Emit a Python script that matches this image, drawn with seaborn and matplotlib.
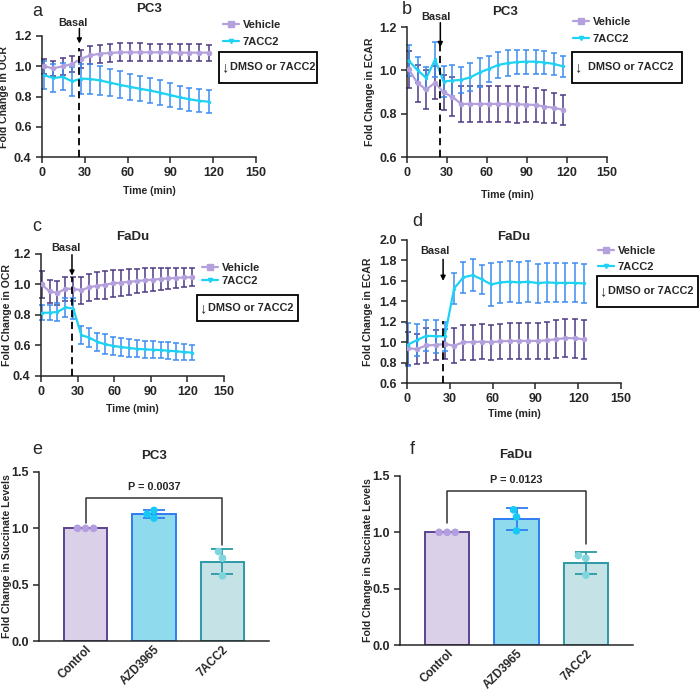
import numpy as np
import pandas as pd
import matplotlib
matplotlib.use('Agg')
import matplotlib.pyplot as plt
import seaborn as sns
from matplotlib.lines import Line2D
from matplotlib.patches import Rectangle

# ---- data ----
time_pc3 = [1.2, 8.0, 14.5, 21.1, 27.4, 33.9, 40.7, 47.6, 54.5, 61.5, 68.4, 75.4,
            82.5, 89.5, 96.4, 103.1, 110.0, 117.2]
time_fadu = [0.5, 7.0, 13.5, 20.0, 26.5, 33.0, 39.5, 46.0, 52.5, 59.0, 65.5, 72.0,
             78.5, 85.0, 91.5, 98.0, 104.5, 111.0, 117.5, 124.0]

# a: PC3 OCR
a_veh = [1.0, 0.986, 1.0, 1.015, 1.05, 1.072, 1.083, 1.088, 1.092, 1.092, 1.092, 1.092,
         1.092, 1.092, 1.09, 1.09, 1.09, 1.09]
a_veh_sd = [0.05, 0.05, 0.055, 0.055, 0.06, 0.06, 0.06, 0.06, 0.06, 0.06, 0.06, 0.058,
            0.055, 0.055, 0.055, 0.055, 0.055, 0.052]
a_drug = [0.942, 0.922, 0.93, 0.9, 0.918, 0.916, 0.906, 0.892, 0.877, 0.864, 0.852, 0.84,
          0.826, 0.81, 0.795, 0.782, 0.772, 0.765]
a_drug_sd = [0.09, 0.09, 0.09, 0.095, 0.1, 0.1, 0.095, 0.09, 0.09, 0.085, 0.085, 0.08,
             0.08, 0.078, 0.075, 0.075, 0.075, 0.075]

# b: PC3 ECAR
b_veh = [1.005, 0.94, 0.912, 0.943, 0.898, 0.878, 0.845, 0.845, 0.845, 0.845, 0.845, 0.845,
         0.843, 0.842, 0.84, 0.833, 0.827, 0.818]
b_veh_sd = [0.085, 0.085, 0.09, 0.075, 0.08, 0.09, 0.085, 0.085, 0.085, 0.085, 0.085, 0.085,
            0.085, 0.08, 0.08, 0.075, 0.07, 0.07]
b_drug = [1.045, 1.0, 0.965, 1.05, 0.948, 0.953, 0.956, 0.968, 0.99, 1.007, 1.025, 1.033,
          1.038, 1.04, 1.04, 1.036, 1.03, 1.018]
b_drug_sd = [0.07, 0.06, 0.05, 0.08, 0.07, 0.07, 0.06, 0.065, 0.065, 0.06, 0.06, 0.06,
             0.055, 0.055, 0.055, 0.055, 0.05, 0.05]

# c: FaDu OCR
c_veh = [1.0, 0.955, 0.945, 0.972, 0.972, 0.962, 0.982, 0.992, 0.998, 1.008, 1.012, 1.018,
         1.022, 1.028, 1.032, 1.036, 1.04, 1.043, 1.046, 1.048]
c_veh_sd = [0.09, 0.075, 0.08, 0.08, 0.08, 0.09, 0.09, 0.09, 0.09, 0.09, 0.085, 0.085,
            0.08, 0.08, 0.075, 0.07, 0.07, 0.065, 0.065, 0.06]
c_drug = [0.815, 0.815, 0.82, 0.85, 0.842, 0.668, 0.652, 0.625, 0.608, 0.598, 0.59, 0.584,
          0.578, 0.575, 0.572, 0.57, 0.566, 0.562, 0.557, 0.553]
c_drug_sd = [0.05, 0.05, 0.06, 0.06, 0.07, 0.06, 0.06, 0.06, 0.065, 0.06, 0.06, 0.06,
             0.055, 0.055, 0.055, 0.055, 0.055, 0.055, 0.055, 0.05]

# d: FaDu ECAR
d_veh = [0.94, 0.932, 0.968, 0.972, 0.982, 0.965, 1.0, 1.0, 1.005, 1.0, 1.008, 1.012,
         1.012, 1.012, 1.012, 1.018, 1.028, 1.04, 1.038, 1.028]
d_veh_sd = [0.16, 0.15, 0.17, 0.15, 0.15, 0.17, 0.17, 0.17, 0.17, 0.17, 0.17, 0.18,
            0.18, 0.18, 0.18, 0.18, 0.185, 0.19, 0.19, 0.19]
d_drug = [0.975, 1.02, 1.062, 1.058, 1.058, 1.525, 1.635, 1.655, 1.615, 1.565, 1.585, 1.592,
          1.585, 1.592, 1.578, 1.585, 1.58, 1.58, 1.58, 1.575]
d_drug_sd = [0.21, 0.16, 0.15, 0.16, 0.14, 0.15, 0.15, 0.155, 0.14, 0.21, 0.2, 0.2,
             0.2, 0.2, 0.19, 0.19, 0.19, 0.19, 0.19, 0.19]

# e / f: succinate, three replicates per group
bar_groups = ['Control', 'AZD3965', '7ACC2']
e_reps = [[1.0, 1.0, 1.0], [1.159, 1.091, 1.126], [0.794, 0.735, 0.578]]
f_reps = [[1.0, 1.0, 1.0], [1.2, 1.137, 1.013], [0.794, 0.77, 0.62]]

# ---- style ----
sns.set_style('ticks')
plt.rcParams['font.family'] = ['Liberation Sans', 'DejaVu Sans']
plt.rcParams['font.weight'] = 'bold'
plt.rcParams['axes.labelweight'] = 'bold'
plt.rcParams['axes.linewidth'] = 1.1
plt.rcParams['xtick.major.width'] = 1.1
plt.rcParams['ytick.major.width'] = 1.1
plt.rcParams['xtick.major.size'] = 4
plt.rcParams['ytick.major.size'] = 4
plt.rcParams['xtick.labelsize'] = 9
plt.rcParams['ytick.labelsize'] = 9
plt.rcParams['axes.labelsize'] = 7.6

VEH_LINE, VEH_ERR = '#b4a0dc', '#4e3a82'
DRUG_LINE, DRUG_ERR = '#1ed2f5', '#3c8cf0'
BAR_FILL = ['#d9cdec', '#80e3fc', '#bfe6ec']
BAR_EDGE = ['#5b4390', '#2f7df0', '#2a9aa5']
BAR_DOT = ['#b39ee0', '#18c8f5', '#80d4dc']

W, H = 700, 692
fig = plt.figure(figsize=(W / 100, H / 100), dpi=100)


def px_axes(x0, y0, x1, y1):
    return fig.add_axes([x0 / W, 1 - y1 / H, (x1 - x0) / W, (y1 - y0) / H])


def ftext(x, y, s, **kw):
    fig.text(x / W, 1 - y / H, s, **kw)


def timecourse(ax, t, veh, veh_sd, drug, drug_sd, ylim, yticks, ylabel,
               inj_t, dash_top, arrow_y):
    ax.errorbar(t, veh, yerr=veh_sd, fmt='none', ecolor=VEH_ERR, elinewidth=1.1,
                capsize=2.5, capthick=1.1, zorder=2, clip_on=False)
    ax.errorbar(t, drug, yerr=drug_sd, fmt='none', ecolor=DRUG_ERR, elinewidth=1.1,
                capsize=2.5, capthick=1.1, zorder=2, clip_on=False)
    df_v = pd.DataFrame({'time': t, 'fold': veh})
    df_d = pd.DataFrame({'time': t, 'fold': drug})
    sns.lineplot(data=df_v, x='time', y='fold', color=VEH_LINE, lw=1.6, marker='o',
                 markersize=4, markeredgewidth=0, ax=ax, zorder=3)
    sns.lineplot(data=df_d, x='time', y='fold', color=DRUG_LINE, lw=1.6, marker='o',
                 markersize=2.5, markeredgewidth=0, ax=ax, zorder=3)
    ax.vlines(inj_t, ylim[0], dash_top, colors='black', linestyles=(0, (4, 2.5)),
              lw=1.3, zorder=4)
    ax.annotate('', xy=(inj_t, arrow_y[1]), xytext=(inj_t, arrow_y[0]),
                arrowprops=dict(arrowstyle='-|>', color='black', lw=1.1,
                                mutation_scale=7, shrinkA=0, shrinkB=0),
                annotation_clip=False)
    ax.set_xlim(0, 150)
    ax.set_xticks([0, 30, 60, 90, 120, 150])
    ax.set_ylim(*ylim)
    ax.set_yticks(yticks)
    ax.set_yticklabels([f'{v:.1f}' for v in yticks])
    ax.set_xlabel('Time (min)', fontsize=7.6)
    ax.set_ylabel(ylabel, fontsize=7.6)
    sns.despine(ax=ax)


def legend_at(ax, x, y, spacing):
    handles = [Line2D([], [], color=VEH_LINE, lw=1.6, marker='s', markersize=4),
               Line2D([], [], color=DRUG_LINE, lw=1.6, marker='v', markersize=3)]
    ax.legend(handles, ['Vehicle', '7ACC2'], loc='upper left',
              bbox_to_anchor=(x / W, 1 - y / H), bbox_transform=fig.transFigure,
              frameon=False, borderpad=0, borderaxespad=0, handlelength=1.4,
              handletextpad=0.35, labelspacing=spacing, fontsize=8)


def inj_box(x0, y0, x1, y1, arrow_x, text_x):
    fig.patches.append(Rectangle((x0 / W, 1 - y1 / H), (x1 - x0) / W, (y1 - y0) / H,
                                 transform=fig.transFigure, fill=False,
                                 edgecolor='black', lw=1.3))
    yc = (y0 + y1) / 2
    ftext(arrow_x, yc, '↓', ha='center', va='center', fontsize=10.5)
    ftext(text_x, yc, 'DMSO or 7ACC2', ha='left', va='center', fontsize=7.8)


# ---- a ----
ax_a = px_axes(42, 36, 256, 157)
timecourse(ax_a, time_pc3, a_veh, a_veh_sd, a_drug, a_drug_sd, (0.4, 1.2),
           [0.4, 0.6, 0.8, 1.0, 1.2], 'Fold Change in OCR', 26.2, 1.12, (1.25, 1.15))
legend_at(ax_a, 223, 20, 0.6)
inj_box(219, 52, 317, 83, 225, 230)
ax_a.xaxis.set_label_coords(0.5, -0.24)
ax_a.yaxis.set_label_coords(-0.155, 0.5)

# ---- b ----
ax_b = px_axes(407, 27, 607, 157)
timecourse(ax_b, time_pc3, b_veh, b_veh_sd, b_drug, b_drug_sd, (0.6, 1.2),
           [0.6, 0.8, 1.0, 1.2], 'Fold Change in ECAR', 25.0, 1.126, (1.22, 1.107))
legend_at(ax_b, 573, 17, 0.65)
inj_box(572, 52, 682, 83, 578, 588)
ax_b.xaxis.set_label_coords(0.5, -0.255)
ax_b.yaxis.set_label_coords(-0.16, 0.5)

# ---- c ----
ax_c = px_axes(41, 254, 224, 376)
timecourse(ax_c, time_fadu, c_veh, c_veh_sd, c_drug, c_drug_sd, (0.4, 1.2),
           [0.4, 0.6, 0.8, 1.0, 1.2], 'Fold Change in OCR', 25.4, 1.05, (1.195, 1.058))
legend_at(ax_c, 202, 263, 0.3)
inj_box(197, 295, 298, 321, 203, 208)
ax_c.xaxis.set_label_coords(0.5, -0.23)
ax_c.yaxis.set_label_coords(-0.158, 0.5)

# ---- d ----
ax_d = px_axes(407, 240, 621, 383)
timecourse(ax_d, time_fadu, d_veh, d_veh_sd, d_drug, d_drug_sd, (0.6, 2.0),
           [0.6, 0.8, 1.0, 1.2, 1.4, 1.6, 1.8, 2.0], 'Fold Change in ECAR', 25.3, 1.21,
           (1.81, 1.60))
legend_at(ax_d, 598, 246, 0.5)
inj_box(597, 276, 698, 307, 603, 608)
ax_d.xaxis.set_label_coords(0.5, -0.18)
ax_d.yaxis.set_label_coords(-0.159, 0.5)


# ---- e / f ----
def succinate(ax, reps, bracket, ptext):
    df = pd.DataFrame({'group': np.repeat(bar_groups, 3), 'fold': np.concatenate(reps)})
    sns.barplot(data=df, x='group', y='fold', hue='group', palette=BAR_FILL,
                errorbar=None, width=0.64, linewidth=1.4, legend=False, ax=ax, zorder=1)
    for patch, ec in zip(ax.patches, BAR_EDGE):
        patch.set_edgecolor(ec)
    stats = df.groupby('group', sort=False)['fold'].agg(['mean', 'std'])
    for i, g in enumerate(bar_groups):
        if stats.loc[g, 'std'] > 0:
            ax.errorbar(i, stats.loc[g, 'mean'], yerr=stats.loc[g, 'std'], fmt='none',
                        ecolor=BAR_EDGE[i], elinewidth=1.3, capsize=8, capthick=1.3,
                        zorder=3)
    sns.swarmplot(data=df, x='group', y='fold', hue='group', palette=BAR_DOT, size=5.5,
                  legend=False, ax=ax, zorder=4)
    y_left, y_top, y_right = bracket
    ax.plot([0, 0, 2, 2], [y_left, y_top, y_top, y_right], color='#333333', lw=1.1,
            zorder=5)
    ax.text(1, y_top + 0.05, ptext, ha='center', va='bottom', fontsize=7.8)
    ax.set_xlim(-0.68, 2.68)
    ax.set_ylim(0, 1.5)
    ax.set_yticks([0.0, 0.5, 1.0, 1.5])
    ax.set_yticklabels(['0.0', '0.5', '1.0', '1.5'])
    ax.set_xlabel('')
    ax.set_ylabel('Fold Change in Succinate Levels', fontsize=7.6)
    ax.tick_params(axis='x', labelsize=8.4, length=0, pad=2)
    for lab in ax.get_xticklabels():
        lab.set_rotation(45)
        lab.set_ha('right')
        lab.set_rotation_mode('anchor')
    sns.despine(ax=ax)
    ax.yaxis.set_label_coords(-0.117, 0.5)


ax_e = px_axes(39, 472, 269, 641)
succinate(ax_e, e_reps, (1.05, 1.27, 0.855), 'P = 0.0037')
ax_f = px_axes(400, 476, 633, 645)
succinate(ax_f, f_reps, (1.08, 1.37, 0.90), 'P = 0.0123')
ax_f.yaxis.set_label_coords(-0.116, 0.5)

# ---- titles, panel letters, "Basal" ----
for x, y, s in [(149, 8.5, 'PC3'), (505, 12, 'PC3'), (133, 237, 'FaDu'),
                (514, 237, 'FaDu'), (154, 456, 'PC3'), (516, 455, 'FaDu')]:
    ftext(x, y, s, ha='center', va='center', fontsize=9.5, fontweight='bold')
for x, y, s in [(37, 11, 'a'), (407, 10, 'b'), (37, 227, 'c'), (417, 222, 'd'),
                (37, 450, 'e'), (412, 450, 'f')]:
    ftext(x, y, s, ha='center', va='center', fontsize=13, fontweight='normal')
for x, y in [(73, 23), (436, 17), (66, 248), (435, 251)]:
    ftext(x, y, 'Basal', ha='center', va='center', fontsize=7.8)

fig.savefig('out.png', dpi=100)
